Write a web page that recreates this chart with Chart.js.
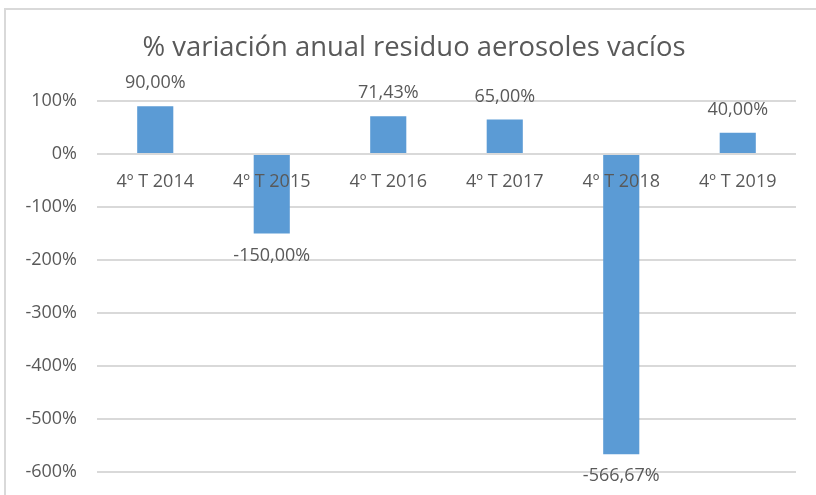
<!DOCTYPE html>
<html>
<head>
<meta charset="utf-8">
<script src="https://cdn.jsdelivr.net/npm/chart.js@4"></script>
<style>
  html, body { margin: 0; padding: 0; background: #fff; }
</style>
</head>
<body>
<canvas id="grafico" width="816" height="495"></canvas>
<script>
const titulo = '% variación anual residuo aerosoles vacíos';
const categorias = ['4º T 2014', '4º T 2015', '4º T 2016', '4º T 2017', '4º T 2018', '4º T 2019'];
const variacion = [90.00, -150.00, 71.43, 65.00, -566.67, 40.00];
const ticksY = [100, 0, -100, -200, -300, -400, -500, -600];

const fuente = "'Open Sans', sans-serif";
const gris = '#595959';

function formato(v) {
  return v.toFixed(2).replace('.', ',') + '%';
}

// marco, titulo, etiquetas de categoria y de datos
const extras = {
  id: 'extras',
  beforeDraw(chart) {
    const c = chart.ctx;
    c.save();
    c.strokeStyle = '#d9d9d9';
    c.lineWidth = 2;
    c.beginPath();
    c.moveTo(5, 500);
    c.lineTo(5, 9);
    c.lineTo(820, 9);
    c.stroke();
    c.restore();
  },
  afterDatasetsDraw(chart) {
    const c = chart.ctx;
    const x = chart.scales.x;
    const y = chart.scales.y;
    c.save();
    c.fillStyle = gris;
    c.textAlign = 'center';
    c.textBaseline = 'middle';

    c.font = '27.4px ' + fuente;
    c.fillText(titulo, 414, 48);

    c.font = '18px ' + fuente;
    categorias.forEach((cat, i) => {
      c.fillText(cat, x.getPixelForValue(i), y.getPixelForValue(0) + 28);
    });

    const meta = chart.getDatasetMeta(0);
    meta.data.forEach((bar, i) => {
      const v = variacion[i];
      const py = v >= 0 ? bar.y - 23 : bar.y + 22;
      c.fillText(formato(v), bar.x, py);
    });
    c.restore();
  }
};

new Chart(document.getElementById('grafico'), {
  type: 'bar',
  data: {
    labels: categorias,
    datasets: [{
      data: variacion,
      backgroundColor: '#5b9bd5',
      borderWidth: 0,
      barPercentage: 0.31,
      categoryPercentage: 1
    }]
  },
  options: {
    responsive: false,
    animation: false,
    devicePixelRatio: 1,
    layout: { padding: { top: 101, right: 20, bottom: 23, left: 0 } },
    plugins: {
      legend: { display: false },
      tooltip: { enabled: false }
    },
    scales: {
      x: { display: false },
      y: {
        min: -600,
        max: 100,
        afterFit(scale) {
          scale.width = 97;
          scale.paddingTop = 0;
          scale.paddingBottom = 0;
        },
        afterBuildTicks(scale) { scale.ticks = ticksY.map(v => ({ value: v })); },
        border: { display: false },
        grid: { color: '#d9d9d9', lineWidth: 2, drawTicks: false },
        ticks: {
          padding: 20,
          color: gris,
          font: { family: fuente, size: 18 },
          callback: v => v + '%'
        }
      }
    }
  },
  plugins: [extras]
});
</script>
</body>
</html>
